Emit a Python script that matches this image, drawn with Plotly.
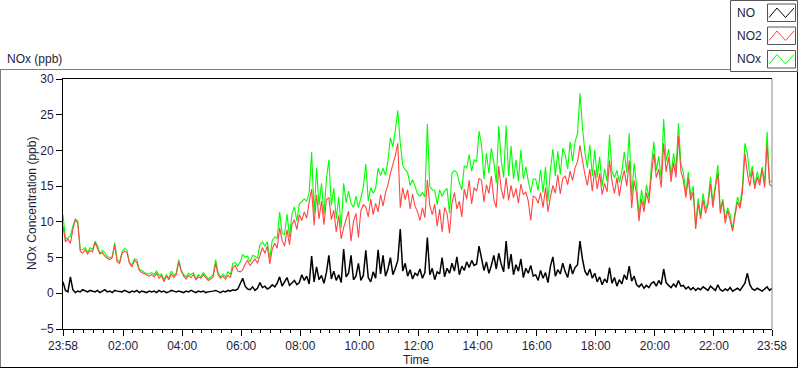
import plotly.graph_objects as go
from datetime import datetime, timedelta

# ---------------- data (5-minute samples, 23:58 -> 23:58) ----------------
start_time = "2023-05-01 23:58"
step_minutes = 5

# NO (ppb), one row per hour
no_vals = [
    1.6, 0.4, 0.2, 2.3, 0.5, 0.1, 0.3, 0.2, 0.5, 0.3, 0.2, 0.4,
    0.3, 0.2, 0.4, 0.1, 0.3, 0.5, 0.2, 0.3, 0.1, 0.4, 0.3, 0.2,
    0.2, 0.4, 0.3, 0.1, 0.3, 0.2, 0.4, 0.1, 0.3, 0.2, 0.1, 0.3,
    0.2, 0.3, 0.1, 0.4, 0.2, 0.3, 0.1, 0.2, 0.4, 0.3, 0.2, 0.3,
    0.2, 0.1, 0.3, 0.2, 0.4, 0.2, 0.1, 0.3, 0.2, 0.3, 0.1, 0.2,
    0.2, 0.3, 0.4, 0.2, 0.1, 0.3, 0.2, 0.4, 0.3, 0.5, 0.4, 0.6,
    1.4, 2.1, 1.0, 0.6, 0.5, 0.9, 0.4, 0.7, 1.5, 0.8, 1.0, 0.6,
    0.8, 1.2, 0.9, 1.4, 2.3, 1.0, 1.6, 2.2, 1.1, 1.5, 1.8, 1.2,
    1.5, 2.6, 1.8, 2.4, 1.3, 5.2, 1.6, 3.7, 1.9, 2.5, 1.4, 2.9,
    5.3, 2.0, 3.1, 1.8, 2.6, 1.5, 6.2, 2.3, 2.8, 5.3, 1.9, 2.4,
    4.2, 1.8, 2.5, 6.0, 2.2, 1.6, 3.0, 2.1, 6.1, 2.7, 5.3, 2.4,
    3.4, 5.0, 2.6, 3.5, 4.6, 9.0, 3.1, 4.2, 2.4, 3.3, 2.0, 2.8,
    2.5, 3.4, 2.1, 2.9, 7.8, 2.6, 3.5, 1.9, 3.0, 2.7, 5.0, 2.3,
    3.5, 2.8, 4.2, 3.1, 5.1, 2.6, 3.8, 3.2, 4.4, 3.6, 4.6, 3.9,
    4.1, 6.6, 5.0, 3.2, 4.4, 2.8, 3.9, 5.3, 3.4, 5.6, 4.1, 3.0,
    7.3, 3.4, 5.5, 2.6, 4.0, 3.1, 4.8, 2.2, 3.5, 2.8, 3.9, 2.4,
    2.6, 1.8, 3.2, 2.1, 2.9, 1.5, 3.8, 5.1, 2.4, 3.3, 2.7, 4.2,
    3.0, 2.2, 4.1, 2.7, 3.6, 4.0, 7.3, 4.8, 3.1, 2.5, 3.4, 2.1,
    2.8, 1.6, 2.3, 1.2, 2.0, 1.5, 3.6, 1.4, 2.2, 1.0, 1.9, 1.3,
    2.6, 1.9, 3.8, 1.7, 2.4, 1.2, 0.9, 1.3, 0.7, 1.1, 0.8, 1.4,
    1.6, 1.0, 1.8, 1.2, 3.4, 1.5, 1.1, 0.8, 1.3, 0.9, 1.8, 1.0,
    1.1, 0.6, 0.9, 0.5, 0.8, 0.4, 0.7, 0.5, 0.9, 0.6, 0.4, 1.0,
    0.7, 0.4, 1.2, 0.5, 0.3, 0.6, 0.4, 0.8, 0.3, 0.5, 0.7, 0.4,
    0.9, 1.4, 2.8, 1.2, 0.6, 0.4, 0.7, 0.5, 0.3, 0.6, 0.9, 0.4,
    0.7,
]

# NO2 (ppb)
no2_vals = [
    9.4, 7.2, 7.6, 7.0, 8.9, 10.3, 9.8, 5.9, 5.6, 6.1, 5.5, 6.0,
    5.8, 7.1, 6.3, 5.5, 5.7, 5.2, 4.9, 4.7, 5.0, 6.7, 4.4, 4.2,
    5.6, 5.9, 5.7, 4.2, 3.7, 4.6, 4.3, 3.2, 2.9, 2.7, 2.6, 2.4,
    2.6, 2.3, 2.8, 2.1, 2.5, 1.6, 2.4, 1.9, 2.7, 2.2, 2.6, 4.4,
    3.1, 2.4, 2.0, 2.5, 2.2, 2.6, 1.9, 2.3, 2.1, 2.6, 2.2, 1.8,
    2.0, 2.3, 4.2, 2.6, 2.1, 2.4, 2.0, 2.5, 2.2, 3.6, 3.9, 3.1,
    3.0, 3.3, 4.1, 4.6, 3.9, 4.4, 4.8, 4.2, 5.3, 6.4, 5.6, 6.6,
    4.1, 6.2, 7.0, 6.3, 9.2, 7.4, 6.6, 8.9, 6.8, 9.6, 10.3, 8.9,
    11.0, 10.2, 11.4, 10.5, 12.8, 14.6, 9.5, 13.8, 10.4, 12.9, 9.6, 13.1,
    13.4, 10.3, 11.6, 8.6, 10.9, 7.6, 9.2, 10.4, 11.5, 7.3, 10.1, 11.2,
    7.8, 11.6, 12.4, 12.1, 10.7, 13.2, 11.0, 12.6, 11.4, 13.8, 12.2, 14.1,
    15.2, 16.8, 17.9, 19.3, 21.0, 12.0, 14.8, 13.1, 14.5, 11.8, 13.9, 12.2,
    11.4, 10.2, 12.0, 10.6, 15.9, 12.3, 11.0, 12.5, 9.4, 11.8, 8.6, 12.0,
    11.2, 8.4, 12.6, 14.1, 11.8, 12.9, 10.7, 14.6, 13.2, 15.8, 12.5, 14.8,
    14.3, 16.1, 15.8, 12.8, 15.2, 14.0, 16.4, 13.1, 12.0, 17.8, 14.6, 13.2,
    16.2, 13.0, 15.1, 13.4, 14.7, 12.6, 15.3, 13.8, 14.2, 12.9, 10.2, 13.6,
    13.4, 12.6, 14.1, 12.0, 14.8, 11.4, 13.5, 15.1, 14.0, 16.6, 13.9, 16.1,
    16.4, 15.2, 17.1, 15.8, 17.6, 18.4, 20.7, 18.5, 16.6, 15.1, 17.4, 14.3,
    17.3, 14.6, 16.8, 13.8, 15.4, 14.2, 18.6, 15.7, 14.0, 16.2, 13.6, 15.8,
    17.2, 15.0, 18.6, 11.9, 15.8, 13.9, 10.1, 13.2, 11.4, 14.1, 12.6, 16.4,
    19.6, 16.2, 17.4, 14.8, 21.0, 17.0, 19.1, 15.6, 18.3, 16.2, 22.0, 17.1,
    15.8, 13.4, 16.1, 13.0, 14.2, 9.0, 12.6, 10.4, 13.1, 11.2, 12.4, 15.3,
    12.0, 14.8, 16.8, 11.2, 12.9, 9.8, 11.6, 10.2, 8.7, 10.9, 12.8, 11.9,
    14.2, 19.6, 16.8, 15.0, 17.2, 14.6, 16.3, 15.1, 17.4, 14.8, 20.8, 15.2,
    15.0,
]

# NOx (ppb)
nox_vals = [
    11.0, 7.6, 7.8, 8.0, 9.4, 10.4, 10.1, 6.1, 6.1, 6.4, 5.7, 6.4,
    6.1, 7.3, 6.7, 5.6, 6.0, 5.7, 5.1, 5.0, 5.1, 7.1, 4.7, 4.4,
    5.8, 6.3, 6.0, 4.3, 4.0, 4.8, 4.7, 3.3, 3.2, 2.9, 2.7, 2.7,
    2.9, 2.6, 3.1, 2.5, 2.7, 1.9, 2.6, 2.1, 3.1, 2.5, 2.8, 4.7,
    3.3, 2.6, 2.3, 2.8, 2.6, 2.9, 2.0, 2.6, 2.3, 2.9, 2.4, 2.0,
    2.3, 2.6, 4.7, 2.9, 2.3, 2.7, 2.3, 3.0, 2.6, 4.2, 4.3, 3.8,
    4.4, 5.4, 5.1, 5.2, 4.4, 5.3, 5.2, 4.9, 6.8, 7.2, 6.6, 7.2,
    4.9, 7.4, 7.9, 7.7, 11.4, 8.4, 8.2, 11.1, 7.9, 11.1, 12.1, 10.1,
    12.5, 12.8, 13.2, 12.9, 14.1, 19.8, 11.1, 17.5, 12.3, 15.4, 11.0, 16.0,
    18.7, 12.3, 14.7, 10.4, 13.5, 9.1, 15.4, 12.7, 14.3, 12.6, 12.0, 13.6,
    12.0, 13.4, 14.9, 18.1, 12.9, 14.8, 14.0, 14.7, 17.5, 16.5, 17.5, 16.5,
    18.6, 21.8, 20.5, 22.8, 25.6, 21.0, 17.9, 17.3, 16.9, 15.1, 15.9, 15.0,
    13.9, 13.6, 14.1, 13.5, 23.7, 14.9, 14.5, 14.4, 12.4, 14.5, 13.6, 14.3,
    14.7, 11.2, 16.8, 17.2, 16.9, 15.5, 14.5, 17.8, 17.6, 19.4, 17.1, 18.7,
    18.4, 22.7, 20.8, 16.0, 19.6, 16.8, 20.3, 18.4, 15.4, 23.4, 18.7, 16.2,
    23.5, 16.4, 20.6, 16.0, 18.7, 15.7, 20.1, 16.0, 17.7, 15.7, 14.1, 16.0,
    16.0, 14.4, 17.3, 14.1, 17.7, 12.9, 17.3, 20.2, 16.4, 19.9, 16.6, 20.3,
    19.4, 17.4, 21.2, 18.5, 21.2, 22.4, 28.0, 23.3, 19.7, 17.6, 20.8, 16.4,
    20.1, 16.2, 19.1, 15.0, 17.4, 15.7, 22.2, 17.1, 16.2, 17.2, 15.5, 17.1,
    19.8, 16.9, 22.4, 13.6, 18.2, 15.1, 11.0, 14.5, 12.1, 15.2, 13.4, 17.8,
    21.2, 17.2, 19.2, 16.0, 24.4, 18.5, 20.2, 16.4, 19.6, 17.1, 23.8, 18.1,
    16.9, 14.0, 17.0, 13.5, 15.0, 9.4, 13.3, 10.9, 14.0, 11.8, 12.8, 16.3,
    12.7, 15.2, 18.0, 11.7, 13.2, 10.4, 12.0, 11.0, 9.0, 11.4, 13.5, 12.3,
    15.1, 21.0, 19.6, 16.2, 17.8, 15.0, 17.0, 15.6, 17.7, 15.4, 22.6, 15.6,
    15.7,
]

tick_labels = ["23:58", "02:00", "04:00", "06:00", "08:00", "10:00", "12:00",
               "14:00", "16:00", "18:00", "20:00", "22:00", "23:58"]
tick_times = ["2023-05-01 23:58", "2023-05-02 02:00", "2023-05-02 04:00",
              "2023-05-02 06:00", "2023-05-02 08:00", "2023-05-02 10:00",
              "2023-05-02 12:00", "2023-05-02 14:00", "2023-05-02 16:00",
              "2023-05-02 18:00", "2023-05-02 20:00", "2023-05-02 22:00",
              "2023-05-02 23:58"]

series_names = ["NO", "NO2", "NOx"]
series_colors = ["#000000", "#ff4545", "#00ff00"]

# ---------------- figure ----------------
t0 = datetime.strptime(start_time, "%Y-%m-%d %H:%M")
times = [t0 + timedelta(minutes=step_minutes * i) for i in range(len(no_vals))]

W, H = 800, 369
L, R, T, B = 63, 772, 79, 329  # plot area in pixels


def px(x):
    return (x - L) / (R - L)


def py(y):
    return (B - y) / (B - T)


fig = go.Figure()
fig.add_trace(go.Scatter(x=times, y=nox_vals, mode="lines", name="NOx",
                         line=dict(color=series_colors[2], width=1.1)))
fig.add_trace(go.Scatter(x=times, y=no2_vals, mode="lines", name="NO2",
                         line=dict(color=series_colors[1], width=1.1)))
fig.add_trace(go.Scatter(x=times, y=no_vals, mode="lines", name="NO",
                         line=dict(color=series_colors[0], width=1.5)))

font_family = "Liberation Sans, Arial, sans-serif"
text_color = "#1e1e3c"

fig.update_layout(
    width=W, height=H,
    margin=dict(l=L, r=W - R, t=T, b=H - B),
    paper_bgcolor="white", plot_bgcolor="white",
    showlegend=False,
    font=dict(family=font_family, size=12, color=text_color),
)

fig.update_xaxes(
    type="date",
    range=[times[0], times[-1]],
    tickmode="array",
    tickvals=[datetime.strptime(t, "%Y-%m-%d %H:%M") for t in tick_times],
    ticktext=tick_labels,
    ticks="outside", ticklen=6, tickcolor="black", tickwidth=1,
    showline=True, linecolor="black", linewidth=1, mirror=True,
    showgrid=False, zeroline=False,
    minor=dict(ticks="outside", ticklen=3, tickcolor="black", tickwidth=1,
               dtick=20 * 60 * 1000, tick0="2023-05-02 00:00", showgrid=False),
    tickfont=dict(size=12, color=text_color),
)
fig.update_yaxes(
    range=[-5, 30], tick0=0, dtick=5,
    ticks="outside", ticklen=6, tickcolor="black", tickwidth=1,
    showline=True, linecolor="black", linewidth=1,
    showgrid=False, zeroline=False,
    tickfont=dict(size=12, color=text_color),
)

shapes = []
# right border of plot area (gray)
shapes.append(dict(type="line", xref="paper", yref="paper",
                   x0=px(772), x1=px(772), y0=py(79), y1=py(329),
                   line=dict(color="#888888", width=1)))
# outer frame
shapes.append(dict(type="line", xref="paper", yref="paper",
                   x0=px(0), x1=px(730), y0=py(69.5), y1=py(69.5),
                   line=dict(color="#7f7f7f", width=1)))
shapes.append(dict(type="line", xref="paper", yref="paper",
                   x0=px(0.5), x1=px(0.5), y0=py(69.5), y1=py(368),
                   line=dict(color="#7f7f7f", width=1)))
shapes.append(dict(type="line", xref="paper", yref="paper",
                   x0=px(0), x1=px(798), y0=py(367.5), y1=py(367.5),
                   line=dict(color="#000000", width=1)))
shapes.append(dict(type="line", xref="paper", yref="paper",
                   x0=px(797.5), x1=px(797.5), y0=py(72), y1=py(368),
                   line=dict(color="#000000", width=1)))
# legend box
shapes.append(dict(type="rect", xref="paper", yref="paper",
                   x0=px(730.5), x1=px(797.5), y0=py(0.5), y1=py(71.5),
                   line=dict(color="#555555", width=1), fillcolor="white"))

annotations = []
legend_rows = [(4, 21.5), (27, 44.5), (50.5, 68)]
for name, color, (ytop, ybot) in zip(series_names, series_colors, legend_rows):
    shapes.append(dict(type="rect", xref="paper", yref="paper",
                       x0=px(767.5), x1=px(795.5), y0=py(ytop), y1=py(ybot),
                       line=dict(color="#555555", width=1), fillcolor="white"))
    yb, yt = ybot - 4, ytop + 4
    path = "M {} {} L {} {} L {} {} L {} {}".format(
        px(769), py(yb), px(777), py(yt), px(785.5), py(yb), px(794), py(yt))
    shapes.append(dict(type="path", xref="paper", yref="paper", path=path,
                       line=dict(color=color, width=1)))
    annotations.append(dict(text=name, xref="paper", yref="paper",
                            x=px(735), y=py((ytop + ybot) / 2),
                            xanchor="left", yanchor="middle", showarrow=False,
                            font=dict(size=12, color=text_color)))

annotations.append(dict(text="NOx (ppb)", xref="paper", yref="paper",
                        x=px(5), y=py(59), xanchor="left", yanchor="middle",
                        showarrow=False, font=dict(size=12, color=text_color)))
annotations.append(dict(text="NOx Concentration (ppb)", xref="paper", yref="paper",
                        x=px(32), y=py(204), xanchor="center", yanchor="middle",
                        textangle=-90, showarrow=False,
                        font=dict(size=12, color=text_color)))
annotations.append(dict(text="Time", xref="paper", yref="paper",
                        x=px(416.5), y=py(360), xanchor="center", yanchor="middle",
                        showarrow=False, font=dict(size=12, color=text_color)))

fig.update_layout(shapes=shapes, annotations=annotations)

fig.write_html(
    "out.html",
    config={"displayModeBar": False},
    post_script="document.body.style.margin='0';document.body.style.overflow='hidden';",
)
